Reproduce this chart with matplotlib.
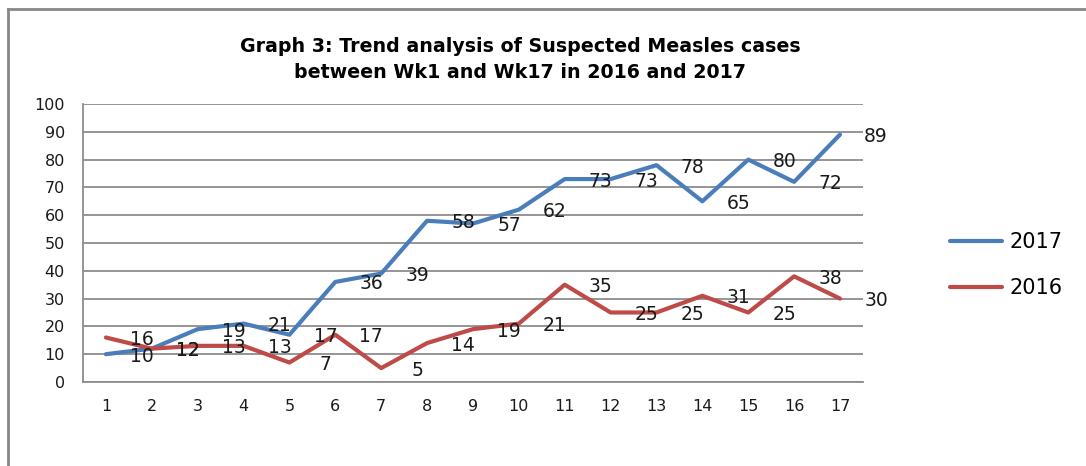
import matplotlib.pyplot as plt
from matplotlib.lines import Line2D

# Weekly suspected measles cases, Wk1..Wk17
weeks = list(range(1, 18))
cases_2017 = [10, 12, 19, 21, 17, 36, 39, 58, 57, 62, 73, 73, 78, 65, 80, 72, 89]
cases_2016 = [16, 12, 13, 13, 7, 17, 5, 14, 19, 21, 35, 25, 25, 31, 25, 38, 30]
y_ticks = list(range(0, 101, 10))

blue = '#4A7EBB'
red = '#BE4B48'
grid_col = '#8C8C8C'

fig = plt.figure(figsize=(10.86, 4.66), dpi=100)
ax = fig.add_axes([0.0764, 0.1803, 0.7182, 0.5965])

ax.plot(weeks, cases_2017, color=blue, lw=3, label='2017', solid_capstyle='round', zorder=3)
ax.plot(weeks, cases_2016, color=red, lw=3, label='2016', solid_capstyle='round', zorder=3)

# data labels sit to the right of each point
for series in (cases_2017, cases_2016):
    for x, v in zip(weeks, series):
        ax.annotate(str(v), (x, v), xytext=(36, -2), textcoords='offset pixels',
                    ha='center', va='center', fontsize=13.5, color='#1a1a1a', zorder=4)

ax.set_xlim(0.5, 17.5)
ax.set_ylim(0, 100)
ax.set_xticks(weeks)
ax.set_yticks(y_ticks)
ax.tick_params(length=0, labelsize=11.5, colors='#1a1a1a')
ax.tick_params(axis='x', pad=12)
ax.tick_params(axis='y', pad=13)
ax.yaxis.grid(True, color=grid_col, lw=1.3)
ax.set_axisbelow(True)
for s in ('top', 'right'):
    ax.spines[s].set_visible(False)
for s in ('left', 'bottom'):
    ax.spines[s].set_color(grid_col)
    ax.spines[s].set_linewidth(1.3)

fig.text(0.479, 0.873, 'Graph 3: Trend analysis of Suspected Measles cases\nbetween Wk1 and Wk17 in 2016 and 2017',
         ha='center', va='center', fontsize=13.7, fontweight='bold', linespacing=1.45)

ax.legend(loc='center left', bbox_to_anchor=(0.8748, 0.431), bbox_transform=fig.transFigure,
          frameon=False, fontsize=15, handlelength=2.5, handletextpad=0.35,
          labelspacing=1.25, borderpad=0, borderaxespad=0)

# outer chart border (left and top edges only visible)
fig.add_artist(Line2D([0.0074, 0.0074], [0.0, 0.981], transform=fig.transFigure, color='#888888', lw=2))
fig.add_artist(Line2D([0.0074, 1.0], [0.981, 0.981], transform=fig.transFigure, color='#888888', lw=2))

fig.savefig('out.png', dpi=100)
